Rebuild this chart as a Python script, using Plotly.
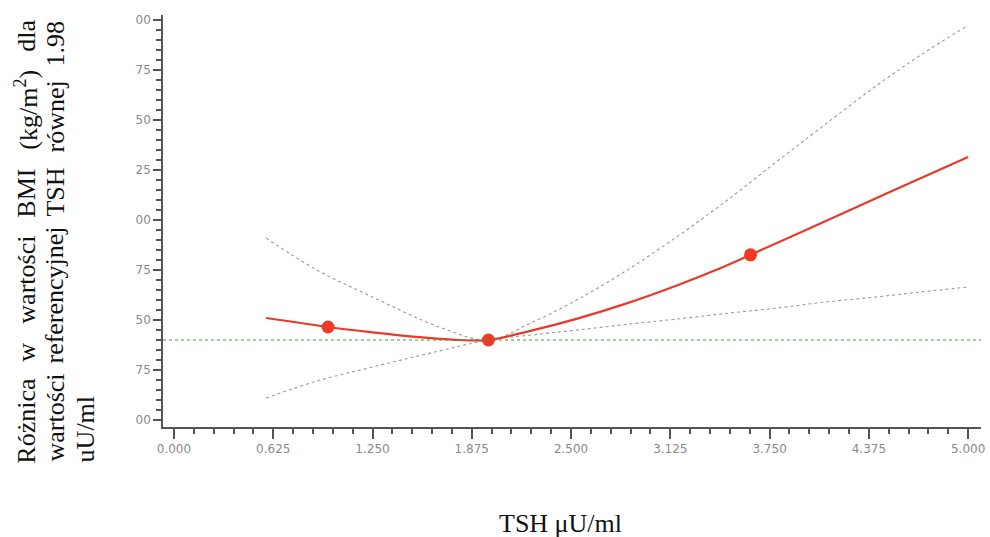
import plotly.graph_objects as go

# TSH values (µU/ml) and fitted BMI difference vs. reference TSH 1.98
tsh = [0.58, 0.80, 0.97, 1.25, 1.50, 1.75, 1.98, 2.25, 2.54, 2.85, 3.17, 3.40, 3.63, 4.00, 4.50, 5.00]
bmi_diff = [0.110, 0.085, 0.065, 0.038, 0.017, 0.002, 0.000, 0.047, 0.107, 0.183, 0.274, 0.346, 0.426, 0.558, 0.737, 0.915]

# confidence band
ci_x = [0.58, 0.90, 1.25, 1.67, 1.98, 2.25, 2.54, 2.85, 3.17, 3.50, 3.80, 4.10, 4.42, 4.70, 5.00]
ci_upper = [0.510, 0.350, 0.215, 0.065, 0.000, 0.086, 0.202, 0.348, 0.518, 0.709, 0.895, 1.078, 1.270, 1.424, 1.574]
ci_lower = [-0.290, -0.205, -0.135, -0.055, 0.000, 0.025, 0.050, 0.078, 0.105, 0.135, 0.160, 0.190, 0.215, 0.240, 0.265]

# highlighted knots
knot_x = [0.97, 1.98, 3.63]
knot_y = [0.065, 0.000, 0.426]

# axis ticks
x_ticks = [0.0, 0.625, 1.25, 1.875, 2.5, 3.125, 3.75, 4.375, 5.0]
x_ticktext = ["0.000", "0.625", "1.250", "1.875", "2.500", "3.125", "3.750", "4.375", "5.000"]
y_ticks = [-0.40, -0.15, 0.10, 0.35, 0.60, 0.85, 1.10, 1.35, 1.60]
y_ticktext = ["00", "75", "50", "75", "00", "25", "50", "75", "00"]

W, H = 990, 537
ML, MR, MT, MB = 163, 5, 15, 110
PW, PH = W - ML - MR, H - MT - MB


def px(x):
    return (x - ML) / PW


def py(y):
    return (H - MB - y) / PH


fig = go.Figure()

fig.add_trace(go.Scatter(x=ci_x, y=ci_upper, mode="lines", line=dict(color="#9a9a9a", width=1.1, dash="dot", shape="spline"), hoverinfo="skip"))
fig.add_trace(go.Scatter(x=ci_x, y=ci_lower, mode="lines", line=dict(color="#9a9a9a", width=1.1, dash="dot", shape="spline"), hoverinfo="skip"))
fig.add_trace(go.Scatter(x=tsh, y=bmi_diff, mode="lines", line=dict(color="#e8392a", width=2.2, shape="spline")))
fig.add_trace(go.Scatter(x=knot_x, y=knot_y, mode="markers", marker=dict(color="#f03a24", size=13)))

# reference line at zero difference
fig.add_shape(type="line", xref="paper", x0=0, x1=1, yref="y", y0=0, y1=0,
              line=dict(color="#3c9a3c", width=1.2, dash="dot"))

serif = "Liberation Serif, Times New Roman, serif"
tsize = 26

# vertical axis title, justified word by word across three lines
# (word, position, anchor): first word starts at the bottom, last word ends at the top
lines = [
    (25, [("Różnica", 465, "bottom"), ("w", 352, "middle"), ("wartości", 280, "middle"),
          ("BMI", 193, "middle"), ("(kg/m<sup>2</sup>)", 110, "middle"), ("dla", 19, "top")]),
    (54, [("wartości", 463, "bottom"), ("referencyjnej", 295, "middle"), ("TSH", 192, "middle"),
          ("równej", 117, "middle"), ("1.98", 20, "top")]),
    (85, [("uU/ml", 463, "bottom")]),
]
for cx, words in lines:
    for word, pos, anchor in words:
        fig.add_annotation(text=word, xref="paper", yref="paper", x=px(cx), y=py(pos),
                           xanchor="center", yanchor=anchor, textangle=-90, showarrow=False,
                           borderpad=0, font=dict(family=serif, size=tsize, color="#111"))

fig.add_annotation(text="TSH μU/ml", xref="paper", yref="paper", x=px(562), y=py(523),
                   xanchor="center", yanchor="middle", showarrow=False,
                   font=dict(family=serif, size=26, color="#111"))

tickfont = dict(family="DejaVu Sans", size=12, color="#8a8a8a")
fig.update_layout(
    width=W, height=H, margin=dict(l=ML, r=MR, t=MT, b=MB),
    paper_bgcolor="white", plot_bgcolor="white", showlegend=False,
    xaxis=dict(range=[-0.069, 5.081], tickvals=x_ticks, ticktext=x_ticktext, showgrid=False, zeroline=False,
               showline=True, linecolor="#555", linewidth=1.5, ticks="outside", ticklen=10, tickwidth=1.5,
               tickcolor="#555", tickfont=tickfont,
               minor=dict(dtick=0.125, tick0=0, ticks="outside", ticklen=5, tickwidth=1.5, tickcolor="#555", showgrid=False)),
    yaxis=dict(range=[-0.435, 1.625], tickvals=y_ticks, ticktext=y_ticktext, showgrid=False, zeroline=False,
               showline=True, linecolor="#555", linewidth=1.5, ticks="outside", ticklen=8, tickwidth=1.5,
               tickcolor="#555", tickfont=tickfont,
               minor=dict(dtick=0.05, tick0=-0.4, ticks="outside", ticklen=5, tickwidth=1.5, tickcolor="#555", showgrid=False)),
)

fig.write_html("out.html")
